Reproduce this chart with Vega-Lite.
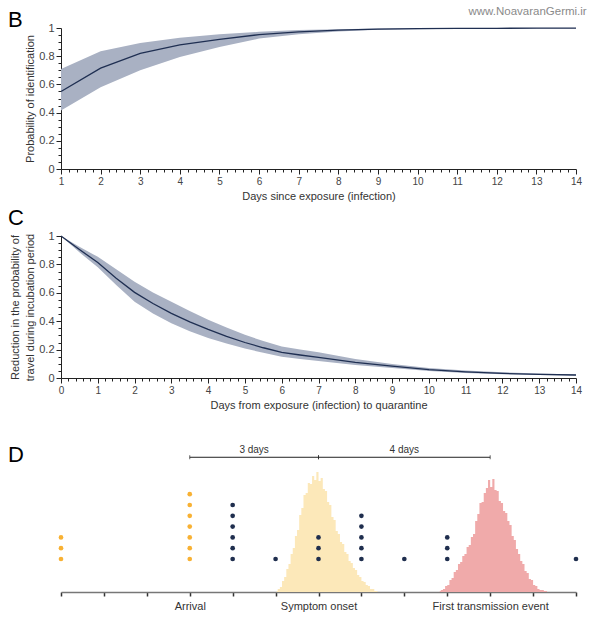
{
  "$schema": "https://vega.github.io/schema/vega-lite/v6.json",
  "background": "white",
  "padding": {"left": 8, "top": 5, "right": 4, "bottom": 4},
  "bounds": "flush",
  "spacing": 67,
  "config": {
    "font": "Liberation Sans",
    "view": {"stroke": null},
    "axis": {
      "grid": false,
      "domainColor": "#222",
      "tickColor": "#222",
      "labelColor": "#444",
      "titleColor": "#333",
      "labelFont": "Liberation Sans",
      "titleFont": "Liberation Sans",
      "titleFontWeight": "normal",
      "labelFontSize": 10,
      "titleFontSize": 11,
      "labelFlush": false,
      "labelOverlap": false
    },
    "title": {"font": "Liberation Sans", "fontSize": 22, "fontWeight": "normal", "color": "#000", "anchor": "start", "frame": "group", "baseline": "alphabetic", "offset": 0}
  },
  "vconcat": [
    {
      "width": 515,
      "height": 141,
      "title": {"text": "B", "dx": -53, "dy": 30},
      "data": {"values": [
        {"day": 1, "mean": 0.55, "lo": 0.415, "hi": 0.71},
        {"day": 2, "mean": 0.715, "lo": 0.58, "hi": 0.835},
        {"day": 3, "mean": 0.82, "lo": 0.7, "hi": 0.893},
        {"day": 4, "mean": 0.88, "lo": 0.795, "hi": 0.93},
        {"day": 5, "mean": 0.92, "lo": 0.866, "hi": 0.955},
        {"day": 6, "mean": 0.953, "lo": 0.925, "hi": 0.973},
        {"day": 7, "mean": 0.972, "lo": 0.955, "hi": 0.985},
        {"day": 8, "mean": 0.985, "lo": 0.975, "hi": 0.992},
        {"day": 9, "mean": 0.992, "lo": 0.987, "hi": 0.996},
        {"day": 10, "mean": 0.995, "lo": 0.992, "hi": 0.998},
        {"day": 11, "mean": 0.997, "lo": 0.995, "hi": 0.999},
        {"day": 12, "mean": 0.998, "lo": 0.997, "hi": 0.999},
        {"day": 13, "mean": 0.999, "lo": 0.998, "hi": 1.0},
        {"day": 14, "mean": 0.999, "lo": 0.998, "hi": 1.0}
      ]},
      "layer": [
        {
          "mark": {"type": "area", "color": "#A9B1C3", "opacity": 1},
          "encoding": {
            "x": {"field": "day", "type": "quantitative", "scale": {"domain": [1, 14], "nice": false},
              "axis": {"title": "Days since exposure (infection)", "tickCount": 65,
                "labelExpr": "abs(datum.value - round(datum.value)) < 0.001 ? '' + round(datum.value) : ''",
                "tickSize": {"condition": {"test": "abs(datum.value - round(datum.value)) < 0.001", "value": 5}, "value": 3},
                "labelPadding": 2, "titlePadding": 4}},
            "y": {"field": "lo", "type": "quantitative", "scale": {"domain": [0, 1], "nice": false}, "title": "Probability of identification",
              "axis": {"tickCount": 20, "labelFontSize": 11,
                "labelExpr": "abs(datum.value * 5 - round(datum.value * 5)) < 0.001 ? format(datum.value, '~g') : ''",
                "tickSize": {"condition": {"test": "abs(datum.value * 5 - round(datum.value * 5)) < 0.001", "value": 5}, "value": 3},
                "labelPadding": 2, "titlePadding": 3}},
            "y2": {"field": "hi"}
          }
        },
        {
          "mark": {"type": "line", "color": "#1F2F52", "strokeWidth": 1.3},
          "encoding": {
            "x": {"field": "day", "type": "quantitative"},
            "y": {"field": "mean", "type": "quantitative", "title": "Probability of identification"}
          }
        },
        {
          "data": {"values": [{"x": 14.27, "y": 1.115, "text": "www.NoavaranGermi.ir"}]},
          "mark": {"type": "text", "align": "right", "baseline": "middle", "fontSize": 11.5, "color": "#8a8a8a"},
          "encoding": {
            "x": {"field": "x", "type": "quantitative"},
            "y": {"field": "y", "type": "quantitative"},
            "text": {"field": "text"}
          }
        }
      ]
    },
    {
      "width": 515,
      "height": 142,
      "title": {"text": "C", "dx": -53, "dy": 4},
      "data": {"values": [
        {"day": 0, "mean": 1, "lo": 1, "hi": 1},
        {"day": 0.5, "mean": 0.905, "lo": 0.885, "hi": 0.925},
        {"day": 1, "mean": 0.813, "lo": 0.78, "hi": 0.853},
        {"day": 1.5, "mean": 0.703, "lo": 0.655, "hi": 0.765},
        {"day": 2, "mean": 0.603, "lo": 0.537, "hi": 0.677},
        {"day": 2.5, "mean": 0.525, "lo": 0.455, "hi": 0.602},
        {"day": 3, "mean": 0.455, "lo": 0.386, "hi": 0.537},
        {"day": 3.5, "mean": 0.395, "lo": 0.33, "hi": 0.472},
        {"day": 4, "mean": 0.342, "lo": 0.282, "hi": 0.41},
        {"day": 4.5, "mean": 0.293, "lo": 0.243, "hi": 0.355},
        {"day": 5, "mean": 0.25, "lo": 0.208, "hi": 0.304},
        {"day": 5.5, "mean": 0.213, "lo": 0.177, "hi": 0.26},
        {"day": 6, "mean": 0.18, "lo": 0.15, "hi": 0.222},
        {"day": 6.5, "mean": 0.162, "lo": 0.133, "hi": 0.2},
        {"day": 7, "mean": 0.145, "lo": 0.12, "hi": 0.181},
        {"day": 8, "mean": 0.11, "lo": 0.092, "hi": 0.133},
        {"day": 9, "mean": 0.083, "lo": 0.07, "hi": 0.099},
        {"day": 10, "mean": 0.059, "lo": 0.05, "hi": 0.071},
        {"day": 11, "mean": 0.043, "lo": 0.036, "hi": 0.053},
        {"day": 12, "mean": 0.032, "lo": 0.027, "hi": 0.04},
        {"day": 13, "mean": 0.025, "lo": 0.021, "hi": 0.031},
        {"day": 14, "mean": 0.021, "lo": 0.018, "hi": 0.025}
      ]},
      "layer": [
        {
          "mark": {"type": "area", "color": "#A9B1C3", "opacity": 1},
          "encoding": {
            "x": {"field": "day", "type": "quantitative", "scale": {"domain": [0, 14], "nice": false},
              "axis": {"title": "Days from exposure (infection) to quarantine", "tickCount": 70,
                "labelExpr": "abs(datum.value - round(datum.value)) < 0.001 ? '' + round(datum.value) : ''",
                "tickSize": {"condition": {"test": "abs(datum.value - round(datum.value)) < 0.001", "value": 5}, "value": 3},
                "labelPadding": 2, "titlePadding": 4}},
            "y": {"field": "lo", "type": "quantitative", "scale": {"domain": [0, 1], "nice": false},
              "title": ["Reduction in the probability of", "travel during incubation period"],
              "axis": {"tickCount": 20, "labelFontSize": 11, "titleLineHeight": 15,
                "labelExpr": "abs(datum.value * 5 - round(datum.value * 5)) < 0.001 ? format(datum.value, '~g') : ''",
                "tickSize": {"condition": {"test": "abs(datum.value * 5 - round(datum.value * 5)) < 0.001", "value": 5}, "value": 3},
                "labelPadding": 2, "titlePadding": 3}},
            "y2": {"field": "hi"}
          }
        },
        {
          "mark": {"type": "line", "color": "#1F2F52", "strokeWidth": 1.3},
          "encoding": {
            "x": {"field": "day", "type": "quantitative"},
            "y": {"field": "mean", "type": "quantitative", "title": ["Reduction in the probability of", "travel during incubation period"]}
          }
        }
      ]
    },
    {
      "width": 515,
      "height": 147,
      "title": {"text": "D", "dx": -53, "dy": 26},
      "resolve": {"scale": {"y": "independent"}},
      "layer": [
        {
          "data": {"values": [
            {"day": 5.025, "freq": 1, "event": "onset"}, {"day": 5.075, "freq": 3, "event": "onset"},
            {"day": 5.125, "freq": 5, "event": "onset"}, {"day": 5.175, "freq": 11, "event": "onset"},
            {"day": 5.225, "freq": 15, "event": "onset"}, {"day": 5.275, "freq": 23, "event": "onset"},
            {"day": 5.325, "freq": 28, "event": "onset"}, {"day": 5.375, "freq": 38, "event": "onset"},
            {"day": 5.425, "freq": 44, "event": "onset"}, {"day": 5.475, "freq": 56, "event": "onset"},
            {"day": 5.525, "freq": 62, "event": "onset"}, {"day": 5.575, "freq": 77, "event": "onset"},
            {"day": 5.625, "freq": 84, "event": "onset"}, {"day": 5.675, "freq": 97, "event": "onset"},
            {"day": 5.725, "freq": 99, "event": "onset"}, {"day": 5.775, "freq": 109, "event": "onset"},
            {"day": 5.825, "freq": 108, "event": "onset"}, {"day": 5.875, "freq": 116, "event": "onset"},
            {"day": 5.925, "freq": 112, "event": "onset"}, {"day": 5.975, "freq": 120, "event": "onset"},
            {"day": 6.025, "freq": 111, "event": "onset"}, {"day": 6.075, "freq": 114, "event": "onset"},
            {"day": 6.125, "freq": 103, "event": "onset"}, {"day": 6.175, "freq": 101, "event": "onset"},
            {"day": 6.225, "freq": 90, "event": "onset"}, {"day": 6.275, "freq": 87, "event": "onset"},
            {"day": 6.325, "freq": 75, "event": "onset"}, {"day": 6.375, "freq": 72, "event": "onset"},
            {"day": 6.425, "freq": 61, "event": "onset"}, {"day": 6.475, "freq": 58, "event": "onset"},
            {"day": 6.525, "freq": 50, "event": "onset"}, {"day": 6.575, "freq": 48, "event": "onset"},
            {"day": 6.625, "freq": 40, "event": "onset"}, {"day": 6.675, "freq": 38, "event": "onset"},
            {"day": 6.725, "freq": 31, "event": "onset"}, {"day": 6.775, "freq": 29, "event": "onset"},
            {"day": 6.825, "freq": 24, "event": "onset"}, {"day": 6.875, "freq": 22, "event": "onset"},
            {"day": 6.925, "freq": 17, "event": "onset"}, {"day": 6.975, "freq": 15, "event": "onset"},
            {"day": 7.025, "freq": 11, "event": "onset"}, {"day": 7.075, "freq": 10, "event": "onset"},
            {"day": 7.125, "freq": 7, "event": "onset"}, {"day": 7.175, "freq": 6, "event": "onset"},
            {"day": 7.225, "freq": 3, "event": "onset"}, {"day": 7.275, "freq": 3, "event": "onset"},
            {"day": 7.325, "freq": 1, "event": "onset"}, {"day": 7.375, "freq": 1, "event": "onset"},
            {"day": 8.825, "freq": 1, "event": "transmission"}, {"day": 8.875, "freq": 2, "event": "transmission"},
            {"day": 8.925, "freq": 3, "event": "transmission"}, {"day": 8.975, "freq": 6, "event": "transmission"},
            {"day": 9.025, "freq": 7, "event": "transmission"}, {"day": 9.075, "freq": 12, "event": "transmission"},
            {"day": 9.125, "freq": 14, "event": "transmission"}, {"day": 9.175, "freq": 20, "event": "transmission"},
            {"day": 9.225, "freq": 22, "event": "transmission"}, {"day": 9.275, "freq": 28, "event": "transmission"},
            {"day": 9.325, "freq": 30, "event": "transmission"}, {"day": 9.375, "freq": 36, "event": "transmission"},
            {"day": 9.425, "freq": 38, "event": "transmission"}, {"day": 9.475, "freq": 45, "event": "transmission"},
            {"day": 9.525, "freq": 47, "event": "transmission"}, {"day": 9.575, "freq": 55, "event": "transmission"},
            {"day": 9.625, "freq": 58, "event": "transmission"}, {"day": 9.675, "freq": 71, "event": "transmission"},
            {"day": 9.725, "freq": 78, "event": "transmission"}, {"day": 9.775, "freq": 89, "event": "transmission"},
            {"day": 9.825, "freq": 90, "event": "transmission"}, {"day": 9.875, "freq": 99, "event": "transmission"},
            {"day": 9.925, "freq": 104, "event": "transmission"}, {"day": 9.975, "freq": 112, "event": "transmission"},
            {"day": 10.025, "freq": 105, "event": "transmission"}, {"day": 10.075, "freq": 113, "event": "transmission"},
            {"day": 10.125, "freq": 102, "event": "transmission"}, {"day": 10.175, "freq": 101, "event": "transmission"},
            {"day": 10.225, "freq": 91, "event": "transmission"}, {"day": 10.275, "freq": 89, "event": "transmission"},
            {"day": 10.325, "freq": 81, "event": "transmission"}, {"day": 10.375, "freq": 79, "event": "transmission"},
            {"day": 10.425, "freq": 71, "event": "transmission"}, {"day": 10.475, "freq": 67, "event": "transmission"},
            {"day": 10.525, "freq": 56, "event": "transmission"}, {"day": 10.575, "freq": 52, "event": "transmission"},
            {"day": 10.625, "freq": 43, "event": "transmission"}, {"day": 10.675, "freq": 38, "event": "transmission"},
            {"day": 10.725, "freq": 31, "event": "transmission"}, {"day": 10.775, "freq": 28, "event": "transmission"},
            {"day": 10.825, "freq": 21, "event": "transmission"}, {"day": 10.875, "freq": 19, "event": "transmission"},
            {"day": 10.925, "freq": 13, "event": "transmission"}, {"day": 10.975, "freq": 12, "event": "transmission"},
            {"day": 11.025, "freq": 7, "event": "transmission"}, {"day": 11.075, "freq": 6, "event": "transmission"},
            {"day": 11.125, "freq": 3, "event": "transmission"}, {"day": 11.175, "freq": 2, "event": "transmission"},
            {"day": 11.225, "freq": 2, "event": "transmission"}, {"day": 11.275, "freq": 1, "event": "transmission"},
            {"day": 11.325, "freq": 1, "event": "transmission"}
          ]},
          "mark": {"type": "area", "interpolate": "step", "opacity": 1},
          "encoding": {
            "x": {"field": "day", "type": "quantitative", "scale": {"domain": [0, 12], "nice": false},
              "axis": {"title": null, "values": [0, 1, 2, 3, 4, 5, 6, 7, 8, 9, 10, 11, 12],
                "labelExpr": "datum.value == 3 ? 'Arrival' : datum.value == 6 ? 'Symptom onset' : datum.value == 10 ? 'First transmission event' : ''",
                "domainColor": "#777", "domainWidth": 1.5, "tickColor": "#333", "tickWidth": 1.5, "tickSize": 4,
                "labelFontSize": 11, "labelPadding": 4, "labelColor": "#333"}},
            "y": {"field": "freq", "type": "quantitative", "stack": null, "scale": {"domain": [0, 147], "nice": false}, "axis": null},
            "color": {"field": "event", "type": "nominal", "legend": null,
              "scale": {"domain": ["onset", "transmission", "A", "B"], "range": ["#FCE8B9", "#F0AAAA", "#F8B133", "#1F2E4E"]}}
          }
        },
        {
          "data": {"values": [
            {"day": 0, "level": 1, "group": "A"}, {"day": 0, "level": 2, "group": "A"}, {"day": 0, "level": 3, "group": "A"},
            {"day": 3, "level": 1, "group": "A"}, {"day": 3, "level": 2, "group": "A"}, {"day": 3, "level": 3, "group": "A"},
            {"day": 3, "level": 4, "group": "A"}, {"day": 3, "level": 5, "group": "A"}, {"day": 3, "level": 6, "group": "A"},
            {"day": 3, "level": 7, "group": "A"},
            {"day": 4, "level": 1, "group": "B"}, {"day": 4, "level": 2, "group": "B"}, {"day": 4, "level": 3, "group": "B"},
            {"day": 4, "level": 4, "group": "B"}, {"day": 4, "level": 5, "group": "B"}, {"day": 4, "level": 6, "group": "B"},
            {"day": 5, "level": 1, "group": "B"},
            {"day": 6, "level": 1, "group": "B"}, {"day": 6, "level": 2, "group": "B"}, {"day": 6, "level": 3, "group": "B"},
            {"day": 7, "level": 1, "group": "B"}, {"day": 7, "level": 2, "group": "B"}, {"day": 7, "level": 3, "group": "B"},
            {"day": 7, "level": 4, "group": "B"}, {"day": 7, "level": 5, "group": "B"},
            {"day": 8, "level": 1, "group": "B"},
            {"day": 9, "level": 1, "group": "B"}, {"day": 9, "level": 2, "group": "B"}, {"day": 9, "level": 3, "group": "B"},
            {"day": 12, "level": 1, "group": "B"}
          ]},
          "mark": {"type": "point", "filled": true, "size": 22, "opacity": 1},
          "encoding": {
            "x": {"field": "day", "type": "quantitative"},
            "y": {"field": "level", "type": "quantitative", "scale": {"domain": [-2.056, 11.556], "nice": false, "zero": false}, "axis": null},
            "color": {"field": "group", "type": "nominal", "legend": null}
          }
        },
        {
          "data": {"values": [
            {"start": 3, "end": 6, "mid": 4.5, "label": "3 days"},
            {"start": 6, "end": 10, "mid": 8, "label": "4 days"}
          ]},
          "layer": [
            {
              "mark": {"type": "rule", "color": "#222", "strokeWidth": 1},
              "encoding": {
                "x": {"field": "start", "type": "quantitative"},
                "x2": {"field": "end"},
                "y": {"datum": 10.42, "type": "quantitative", "scale": {"domain": [-2.056, 11.556], "nice": false, "zero": false}, "axis": null}
              }
            },
            {
              "mark": {"type": "tick", "orient": "vertical", "color": "#222", "size": 4, "thickness": 1},
              "encoding": {
                "x": {"field": "start", "type": "quantitative"},
                "y": {"datum": 10.42, "type": "quantitative", "scale": {"domain": [-2.056, 11.556], "nice": false, "zero": false}, "axis": null}
              }
            },
            {
              "mark": {"type": "tick", "orient": "vertical", "color": "#222", "size": 4, "thickness": 1},
              "encoding": {
                "x": {"field": "end", "type": "quantitative"},
                "y": {"datum": 10.42, "type": "quantitative", "scale": {"domain": [-2.056, 11.556], "nice": false, "zero": false}, "axis": null}
              }
            },
            {
              "mark": {"type": "text", "baseline": "alphabetic", "align": "center", "fontSize": 10, "color": "#333"},
              "encoding": {
                "x": {"field": "mid", "type": "quantitative"},
                "y": {"datum": 10.79, "type": "quantitative", "scale": {"domain": [-2.056, 11.556], "nice": false, "zero": false}, "axis": null},
                "text": {"field": "label"}
              }
            }
          ]
        }
      ]
    }
  ]
}
